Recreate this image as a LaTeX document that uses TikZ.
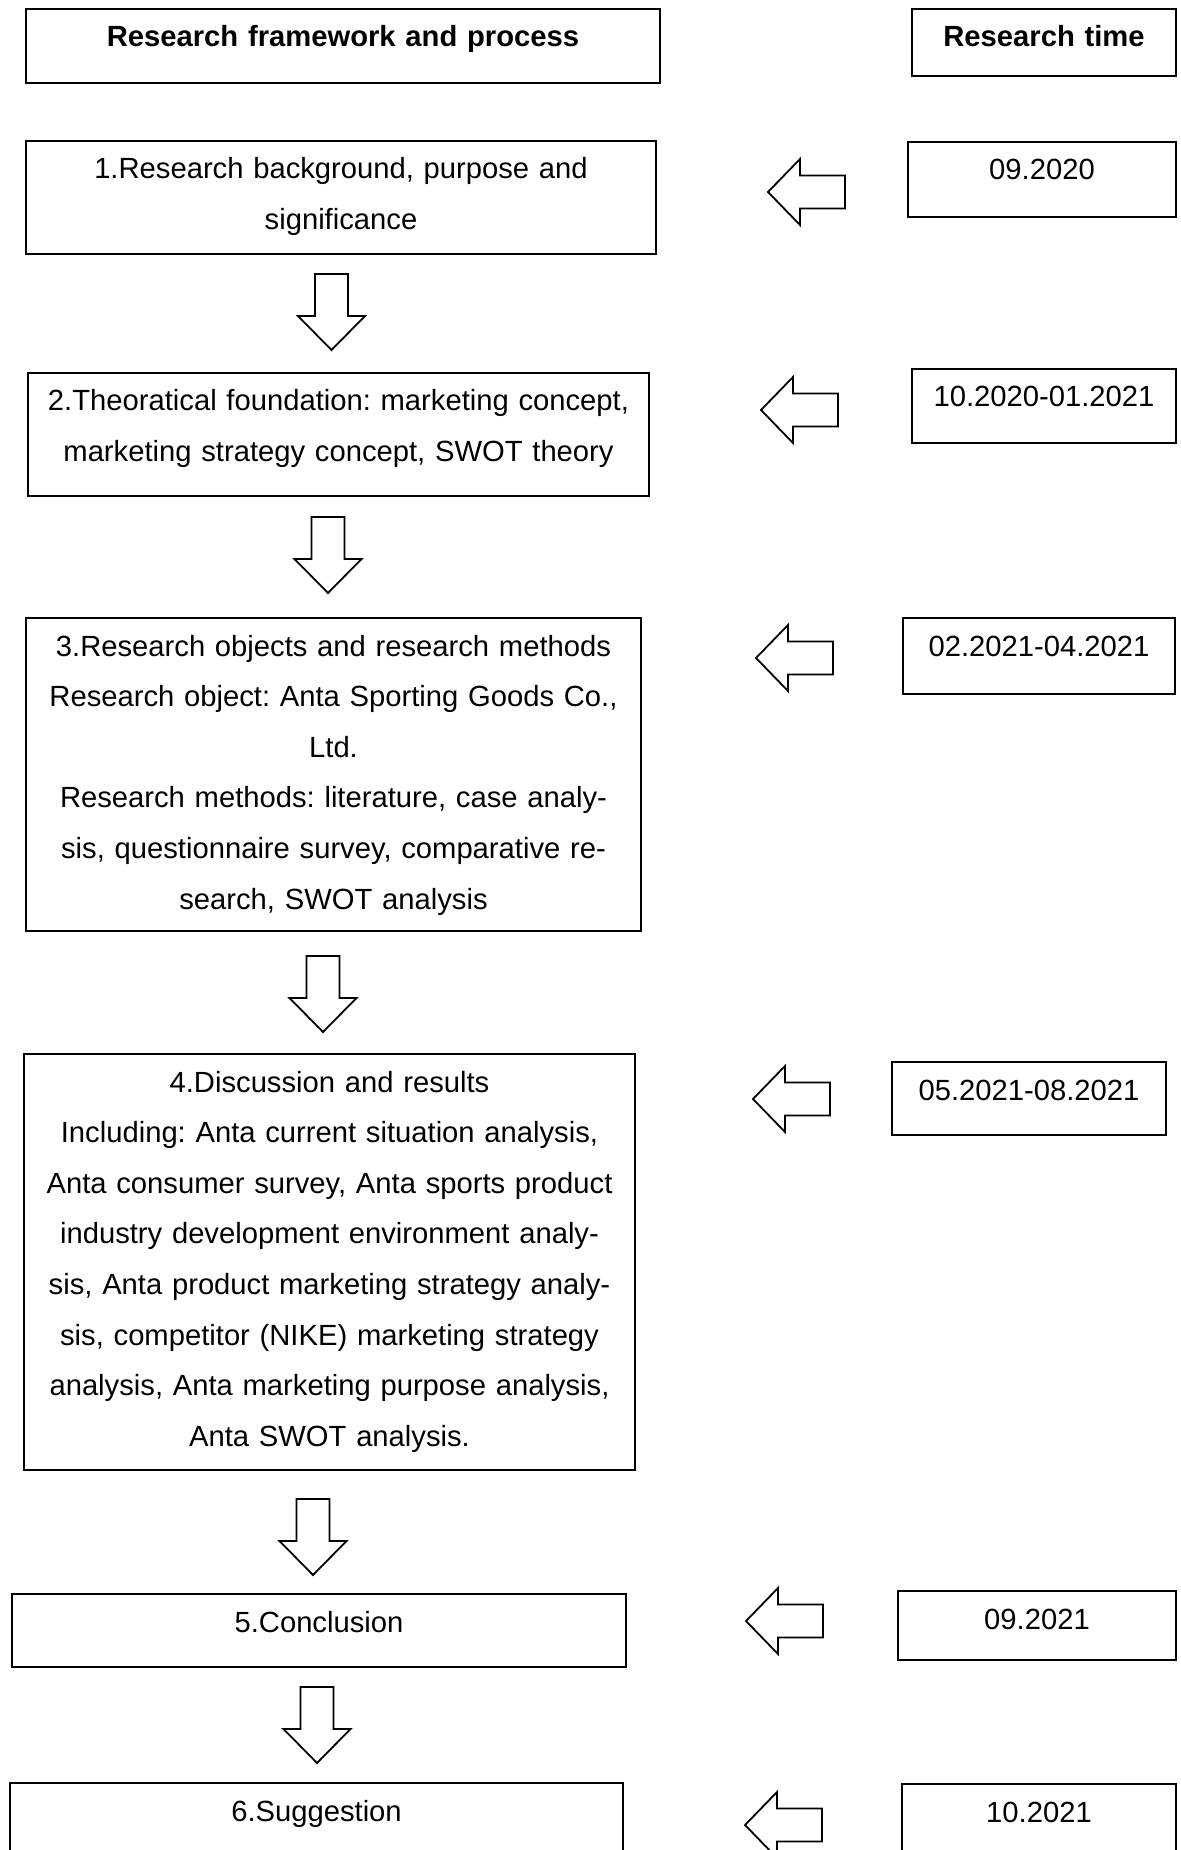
\documentclass[tikz,border=0pt]{standalone}
\usepackage{fontspec}
\setmainfont{Liberation Sans}
\usetikzlibrary{fit}
\frenchspacing
\tikzset{
  frame/.style={draw=black, line width=0.9pt, inner sep=0pt, outer sep=0pt},
  boxtext/.style={anchor=base, inner sep=0pt, text width=340pt, align=center,
    font=\fontsize{14.6pt}{25.3pt}\selectfont\frenchspacing, yshift=-19pt},
  blk/.style={draw=black, line width=0.9pt, fill=white, line join=miter},
}
\newcommand\FBox[5]{%
  \coordinate (#1-a) at (#2,#3); \coordinate (#1-b) at (#4,#5);
  \node[frame, fit=(#1-a)(#1-b)] (#1) {};}
\newcommand\FText[2]{\node[boxtext] (#1-t) at (#1.north) {#2};}
\newcommand\DownBlk[3]{%
  \coordinate (#1) at (#2,#3);
  \draw[blk] (#1) ++(-16.5,0) -- ++(33,0) -- ++(0,42) -- ++(17,0) -- ++(-33.5,34)
    -- ++(-33.5,-34) -- ++(17,0) -- cycle;}
\newcommand\LeftBlk[3]{%
  \coordinate (#1) at (#2,#3);
  \draw[blk] (#1) -- ++(32,-33) -- ++(0,16.5) -- ++(45,0) -- ++(0,33)
    -- ++(-45,0) -- ++(0,16.5) -- cycle;}
\begin{document}
\begin{tikzpicture}[x=0.5pt,y=-0.5pt]
\fill[white] (0,0) rectangle (1181,1850);
\useasboundingbox (0,0) rectangle (1181,1850);
\begin{scope}
\clip (0,0) rectangle (1181,1850);
% headers
\FBox{h1}{26}{9}{660}{83}
\FText{h1}{\bfseries Research framework and process}
\FBox{h2}{912}{9}{1176}{76}
\FText{h2}{\bfseries Research time}
% left column
\FBox{b1}{26}{141}{656}{254}
\FText{b1}{1.Research background, purpose and\\significance}
\FBox{b2}{28}{373}{649}{496}
\FText{b2}{2.Theoratical foundation: marketing concept,\\marketing strategy concept, SWOT theory}
\FBox{b3}{26}{618}{641}{931}
\FText{b3}{3.Research objects and research methods\\Research object: Anta Sporting Goods Co.,\\Ltd.\\Research methods: literature, case analy-\\sis, questionnaire survey, comparative re-\\search, SWOT analysis}
\FBox{b4}{24}{1054}{635}{1470}
\FText{b4}{4.Discussion and results\\Including: Anta current situation analysis,\\Anta consumer survey, Anta sports product\\industry development environment analy-\\sis, Anta product marketing strategy analy-\\sis, competitor (NIKE) marketing strategy\\analysis, Anta marketing purpose analysis,\\Anta SWOT analysis.}
\FBox{b5}{12}{1594}{626}{1667}
\FText{b5}{5.Conclusion}
\FBox{b6}{10}{1783}{623}{1910}
\FText{b6}{6.Suggestion}
% right column
\FBox{t1}{908}{142}{1176}{217}
\FText{t1}{09.2020}
\FBox{t2}{912}{369}{1176}{443}
\FText{t2}{10.2020-01.2021}
\FBox{t3}{903}{618}{1175}{694}
\FText{t3}{02.2021-04.2021}
\FBox{t4}{892}{1062}{1166}{1135}
\FText{t4}{05.2021-08.2021}
\FBox{t5}{898}{1591}{1176}{1660}
\FText{t5}{09.2021}
\FBox{t6}{902}{1784}{1176}{1910}
\FText{t6}{10.2021}
% down arrows
\DownBlk{d1}{331.5}{274}
\DownBlk{d2}{328}{517}
\DownBlk{d3}{323}{956}
\DownBlk{d4}{313}{1499}
\DownBlk{d5}{317}{1687}
% left arrows
\LeftBlk{l1}{768}{192}
\LeftBlk{l2}{761}{410}
\LeftBlk{l3}{756}{658}
\LeftBlk{l4}{753}{1099}
\LeftBlk{l5}{746}{1621}
\LeftBlk{l6}{745}{1825}
\end{scope}
\end{tikzpicture}
\end{document}
